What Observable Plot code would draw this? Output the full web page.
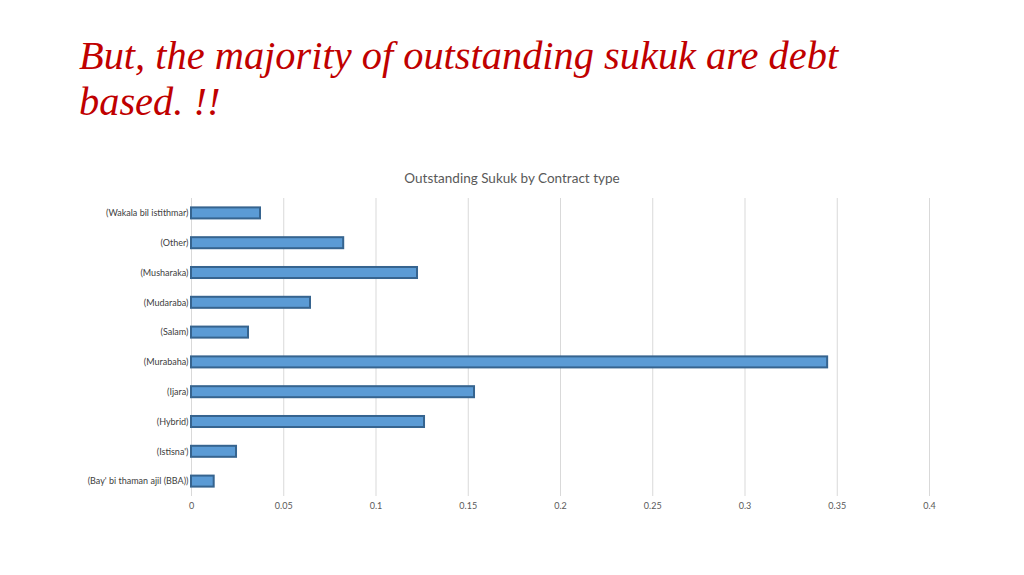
<!DOCTYPE html>
<html>
<head>
<meta charset="utf-8">
<script src="https://cdn.jsdelivr.net/npm/d3@7"></script>
<script src="https://cdn.jsdelivr.net/npm/@observablehq/plot@0.6"></script>
<style>
  html, body { margin: 0; padding: 0; background: #fff; }
  #page { position: relative; width: 1024px; height: 575px; overflow: hidden; }
  #title { position: absolute; left: 79px; top: 33px; margin: 0; font-family: "Liberation Serif", serif; font-style: italic; font-weight: normal; font-size: 40.4px; line-height: 46px; color: #C00000; white-space: nowrap; }
  #ctitle { position: absolute; left: 0; width: 1024px; top: 170px; text-align: center; font-family: Lato, "Open Sans", sans-serif; font-size: 13.5px; color: #595959; }
  #chart { position: absolute; left: 0; top: 190px; }
</style>
</head>
<body>
<div id="page">
  <h1 id="title">But, the majority of outstanding sukuk are debt<br>based. !!</h1>
  <div id="ctitle">Outstanding Sukuk by Contract type</div>
  <div id="chart"></div>
</div>
<script>
const categories = [
  "(Wakala bil istithmar)",
  "(Other)",
  "(Musharaka)",
  "(Mudaraba)",
  "(Salam)",
  "(Murabaha)",
  "(Ijara)",
  "(Hybrid)",
  "(Istisna')",
  "(Bay' bi thaman ajil (BBA))"
];
const values = [0.0374, 0.0825, 0.1225, 0.0645, 0.0309, 0.3448, 0.1534, 0.1263, 0.0244, 0.0123];
const xTicks = [0, 0.05, 0.1, 0.15, 0.2, 0.25, 0.3, 0.35, 0.4];
const xTickLabels = ["0", "0.05", "0.1", "0.15", "0.2", "0.25", "0.3", "0.35", "0.4"];

const data = categories.map((c, i) => ({category: c, value: values[i]}));

const chart = Plot.plot({
  width: 1024,
  height: 331,
  marginLeft: 191,
  marginRight: 95,
  marginTop: 8,
  marginBottom: 25,
  style: {fontFamily: "Lato, 'Open Sans', sans-serif", fontSize: "9px", color: "#595959", background: "transparent"},
  x: {domain: [0, 0.4]},
  y: {domain: categories, paddingInner: 0.63, paddingOuter: 0.315, round: false},
  marks: [
    Plot.gridX(xTicks, {stroke: "#d9d9d9", strokeOpacity: 1, strokeWidth: 1}),
    Plot.axisX(xTicks, {tickSize: 0, tickPadding: 6, tickFormat: (d) => xTickLabels[xTicks.indexOf(d)], label: null, fill: "#595959", fontSize: 9}),
    Plot.axisY({tickSize: 0, tickPadding: 3, label: null, fill: "#404040", fontSize: 9}),
    Plot.barX(data, {x: "value", y: "category", fill: "#5B9BD5", stroke: "#36648f", strokeWidth: 2})
  ]
});
document.getElementById("chart").appendChild(chart);
</script>
</body>
</html>
